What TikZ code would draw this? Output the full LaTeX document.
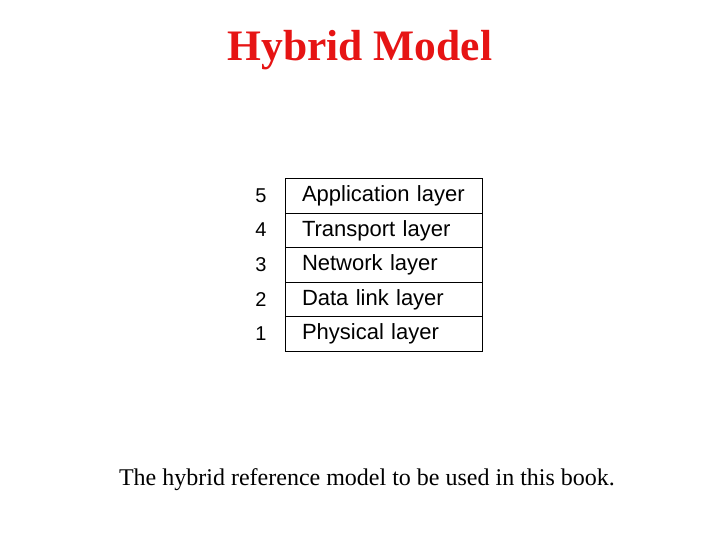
\documentclass[tikz,border=0pt]{standalone}
\usepackage{fontspec}
\setmainfont{Liberation Serif}
\newfontfamily\helv{Liberation Sans}
\definecolor{titlered}{RGB}{230,20,20}
\begin{document}
\begin{tikzpicture}[x=1pt,y=-1pt,
  cell/.style={draw,line width=1pt,minimum width=197pt,minimum height=34.6pt,anchor=north west,inner sep=0pt,text width=164pt,align=left,font=\helv\fontsize{22}{24}\selectfont},
  num/.style={font=\helv\fontsize{20}{22}\selectfont}]
\useasboundingbox (0,0) rectangle (720,540);
\node[font=\bfseries\fontsize{43.5}{46}\selectfont,text=titlered] (title) at (360,50) {Hybrid Model};
\foreach \i/\t [count=\k from 0] in {5/Application layer,4/Transport layer,3/Network layer,2/Data link layer,1/Physical layer}{
  \node[cell] (c\i) at (285,178+34.6*\k) {\raisebox{-1.5pt}{\t}};
  \node[num] (n\i) at (261,195.3+34.6*\k) {\i};
}
\node[font=\fontsize{24}{26}\selectfont] (cap) at (367,480) {The hybrid reference model to be used in this book.};
\end{tikzpicture}
\end{document}
